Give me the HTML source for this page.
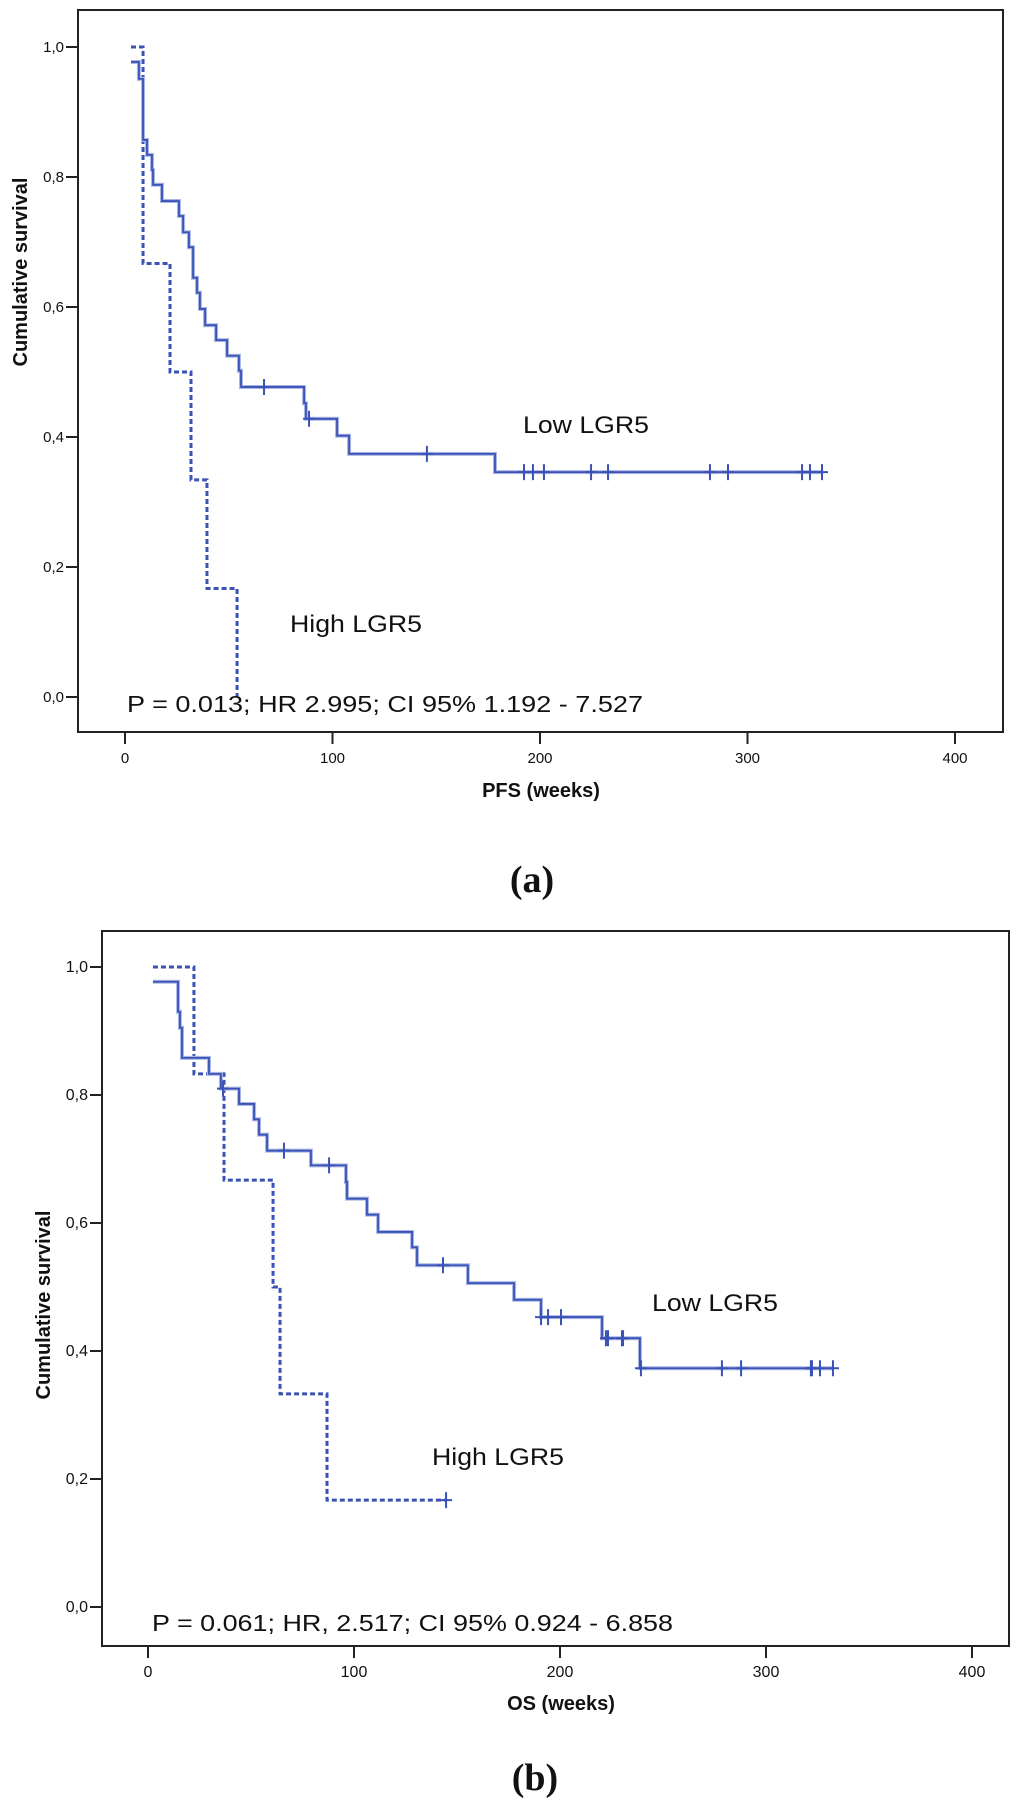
<!DOCTYPE html>
<html><head><meta charset="utf-8"><style>
body{margin:0;background:#fff}
svg{display:block}
text{font-family:"Liberation Sans",sans-serif;fill:#111}
</style></head><body>
<svg id="s" width="1024" height="1806" viewBox="0 0 1024 1806"></svg>
<script>
// Panel a (PFS) data
const aLowTimes=[2.9,6.7,8.7,10.6,13,13.5,17.8,26,28,30.8,32.8,34.7,36.1,38.6,43.9,49.2,54.9,55.9,86.3,87.2,102.2,108,178.3];
const aLowSurv=[0.977,0.951,0.857,0.834,0.811,0.788,0.763,0.74,0.715,0.692,0.645,0.622,0.597,0.572,0.549,0.525,0.502,0.477,0.452,0.428,0.402,0.374,0.346];
const aLowEnd=335.9;
const aLowCens=[67,88.7,145.5,192.3,196.6,201.9,224.6,232.8,281.9,290.6,326.3,330.1,335.9];
const aHighTimes=[2.9,8.7,21.7,31.8,39.5,54];
const aHighSurv=[1.0,0.667,0.5,0.334,0.167,0.0];
const aHighEnd=54;
const aHighCens=[];
// Panel b (OS) data
const bLowTimes=[2.4,14.6,15.5,16.5,29.6,35.4,44.2,51.5,53.9,57.8,79.1,96.1,96.6,106.3,111.7,128.2,130.6,155.3,177.7,190.8,220.4,238.8];
const bLowSurv=[0.977,0.93,0.905,0.858,0.833,0.81,0.786,0.762,0.738,0.713,0.69,0.664,0.638,0.613,0.586,0.562,0.534,0.506,0.48,0.453,0.42,0.373];
const bLowEnd=333;
const bLowCens=[36.4,66,87.9,143.2,190.8,194.2,200.5,222.3,223.3,230.1,230.6,239.3,278.6,287.9,321.8,322.3,326.2,332.5];
const bHighTimes=[2.4,22.3,36.9,60.7,64.1,86.9];
const bHighSurv=[1.0,0.833,0.667,0.5,0.333,0.167];
const bHighEnd=144.7;
const bHighCens=[144.7];
const xTicks=[0,100,200,300,400];
const yTicks=[0,0.2,0.4,0.6,0.8,1.0];
const yTickLabels=["0,0","0,2","0,4","0,6","0,8","1,0"];

const NS="http://www.w3.org/2000/svg";
const svg=document.getElementById('s');
function mk(tag,attrs,parent,txt){const e=document.createElementNS(NS,tag);for(const k in attrs)e.setAttribute(k,attrs[k]);if(txt!==undefined)e.textContent=txt;(parent||svg).appendChild(e);return e;}

function panel(cfg){
  const g=mk('g',{});
  
  
  const X=t=>cfg.x0+cfg.kx*t, Y=s=>cfg.y0-cfg.ky*s;
  const fr=mk('rect',{x:cfg.L,y:cfg.T,width:cfg.R-cfg.L,height:cfg.B-cfg.T,fill:'none',stroke:'#222','stroke-width':2},g);
  
  
  yTicks.forEach((v,i)=>{
    const l=mk('line',{x1:cfg.L-12,x2:cfg.L,y1:Y(v),y2:Y(v),stroke:'#222','stroke-width':2},g);
    
    
    const t=mk('text',{x:cfg.L-14,y:Y(v)+5,'text-anchor':'end','font-size':cfg.tfs},g,yTickLabels[i]);
    
    
  });
  xTicks.forEach(v=>{
    const l=mk('line',{x1:X(v),x2:X(v),y1:cfg.B,y2:cfg.B+12,stroke:'#222','stroke-width':2},g);
    
    
    const t=mk('text',{x:X(v),y:cfg.B+31,'text-anchor':'middle','font-size':cfg.tfs},g,String(v));
    
    
  });
  function curve(times,surv,end,cens,dashed,name){
    let d='M'+X(times[0])+','+Y(surv[0]);
    for(let i=1;i<times.length;i++){d+=' H'+X(times[i])+' V'+Y(surv[i]);}
    d+=' H'+X(end);
    if(!dashed){
      const h=mk('path',{d:d,fill:'none',stroke:'#a9b6e4','stroke-width':4},g);
      
      
    }
    const p=mk('path',{d:d,fill:'none',stroke:'#3a52b6','stroke-width':dashed?3:1.8,'stroke-dasharray':dashed?'5,3':'none'},g);
    
    
    cens.forEach(t=>{
      let s=surv[0];for(let i=0;i<times.length;i++){if(times[i]<=t)s=surv[i];}
      const c=mk('path',{d:'M'+(X(t)-6)+','+Y(s)+' h12 M'+X(t)+','+(Y(s)-8)+' v16',stroke:'#3a52b6','stroke-width':2},g);
      
      
    });
  }
  curve(cfg.hT,cfg.hS,cfg.hE,cfg.hC,true,cfg.id+'-high-lgr5-curve');
  curve(cfg.lT,cfg.lS,cfg.lE,cfg.lC,false,cfg.id+'-low-lgr5-curve');
  const lo=mk('text',{x:cfg.lowLab[0],y:cfg.lowLab[1],'font-size':24,textLength:126,lengthAdjust:'spacingAndGlyphs'},g,'Low LGR5');
  
  
  const hi=mk('text',{x:cfg.highLab[0],y:cfg.highLab[1],'font-size':24,textLength:132,lengthAdjust:'spacingAndGlyphs'},g,'High LGR5');
  
  
  const st=mk('text',{x:cfg.stat[0],y:cfg.stat[1],'font-size':23,textLength:cfg.stat[2],lengthAdjust:'spacingAndGlyphs'},g,cfg.statText);
  
  
  const xt=mk('text',{x:cfg.xt[0],y:cfg.xt[1],'text-anchor':'middle','font-size':20,'font-weight':'bold'},g,cfg.xTitle);
  
  
  const yt=mk('text',{x:0,y:0,'text-anchor':'middle','font-size':20,'font-weight':'bold',transform:'translate('+cfg.yt[0]+','+cfg.yt[1]+') rotate(-90)'},g,'Cumulative survival');
  
  
  const pl=mk('text',{x:cfg.pl[0],y:cfg.pl[1],'text-anchor':'middle','font-size':38,'font-weight':'bold',style:'font-family:"Liberation Serif",serif'},g,cfg.plab);
  
  
}
panel({id:'pfs',L:78,R:1003,T:10,B:732,x0:125,kx:2.075,y0:697,ky:650,tfs:15,
  lT:aLowTimes,lS:aLowSurv,lE:aLowEnd,lC:aLowCens,hT:aHighTimes,hS:aHighSurv,hE:aHighEnd,hC:aHighCens,
  lowLab:[523,433],highLab:[290,632],stat:[127,712,516],statText:'P = 0.013; HR 2.995; CI 95% 1.192 - 7.527',
  xt:[541,797],xTitle:'PFS (weeks)',yt:[27,272],pl:[532,892],plab:'(a)'});
panel({id:'os',L:102,R:1009,T:931,B:1646,x0:148,kx:2.06,y0:1607,ky:640,tfs:16,
  lT:bLowTimes,lS:bLowSurv,lE:bLowEnd,lC:bLowCens,hT:bHighTimes,hS:bHighSurv,hE:bHighEnd,hC:bHighCens,
  lowLab:[652,1311],highLab:[432,1465],stat:[152,1631,521],statText:'P = 0.061; HR, 2.517; CI 95% 0.924 - 6.858',
  xt:[561,1710],xTitle:'OS (weeks)',yt:[50,1305],pl:[535,1790],plab:'(b)'});
</script>
</body></html>
